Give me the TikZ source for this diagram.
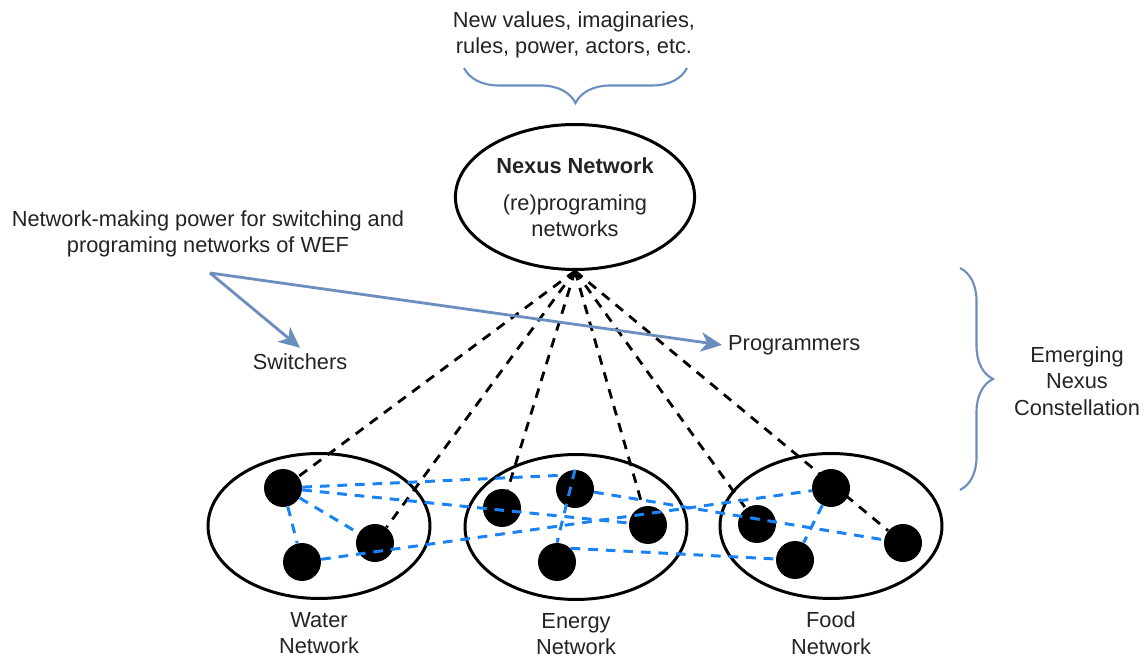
\documentclass[tikz,border=0pt]{standalone}
\usepackage{fontspec}
\setmainfont{Liberation Sans}
\usetikzlibrary{arrows.meta, positioning, shapes.geometric, decorations.pathreplacing, backgrounds}
\definecolor{armblue}{RGB}{108,142,191}
\definecolor{linkblue}{RGB}{25,130,245}
\definecolor{inkgray}{RGB}{35,35,35}

\begin{document}
\begin{tikzpicture}[
    x=0.02cm, y=-0.02cm,
    >={Stealth[length=12pt, width=11pt, inset=3.5pt]},
    txt/.style={font=\fontsize{12.4}{15}\selectfont, text=inkgray, align=center},
    net/.style={draw, ellipse, line width=1.7pt, minimum width=4.44cm, minimum height=2.9cm},
    dot/.style={circle, fill=black, minimum size=0.76cm, inner sep=0pt},
    tie/.style={draw, line width=1.6pt, dash pattern=on 5.5pt off 4.5pt},
    link/.style={draw=linkblue, line width=1.7pt, dash pattern=on 5.5pt off 4.5pt},
    pointer/.style={draw=armblue, line width=1.6pt, ->},
    curly/.style={draw=armblue, line width=1.2pt, decorate, decoration={brace, amplitude=0.7cm}},
]
    \useasboundingbox (0,0) rectangle (1146,661);

    % nexus on top
    \node[txt] (values) at (574,35) {New values, imaginaries,\\rules, power, actors, etc.};
    \draw[curly] (687,68) -- (464,68);
    \node[net, txt, minimum width=4.48cm] (nexus) at (575,197)
        {\textbf{Nexus Network}\\[6pt](re)programing\\networks};

    % power to switch and program
    \node[txt] (power) at (208,234) {Network-making power for switching and\\programing networks of WEF};
    \coordinate (fork) at (210,273);
    \node[txt] (switch) at (300,362) {Switchers};
    \node[txt, anchor=west] (prog) at (722,345) {Programmers};
    \draw[pointer] (fork) -- (switch.north);
    \draw[pointer] (fork) -- (prog.west);

    \draw[curly, decoration={brace, amplitude=0.66cm}] (960,268) -- (960,490);
    \node[txt] (emerge) at (1077,381) {Emerging\\Nexus\\Constellation};

    % WEF networks
    \node[net] (water) at (319,526) {};
    \node[net] (energy) at (576,527) {};
    \node[net] (food) at (831,526) {};
    \node[txt, below=0.12cm of water] (waterlbl) {Water\\Network};
    \node[txt, below=0.12cm of energy] (energylbl) {Energy\\Network};
    \node[txt, below=0.12cm of food] (foodlbl) {Food\\Network};

    \foreach \n/\x/\y in {w1/283/488, w2/302/562, w3/375/543,
                          e1/502/508, e2/575/489, e3/648/525, e4/557/562,
                          f1/757/524, f2/831/488, f3/903/543, f4/795/560}
        \node[dot] (\n) at (\x,\y) {};

    \begin{scope}[on background layer]
        \foreach \n in {w1, w3, e1, e3, f1, f3}
            \draw[tie] (nexus.south) -- (\n);
    \end{scope}

    % links across networks
    \draw[link] (w1) -- (w2);
    \draw[link] (w1) -- (w3);
    \draw[link] (w1) -- (e2.north west);
    \draw[link] (w1) -- (e3);
    \draw[link] (w2) -- (f2);
    \draw[link] (e2.north) -- (e4.north);
    \draw[link] (e2) -- (f3);
    \draw[link] (e4.north east) -- (f4);
    \draw[link] (f2) -- (f4);
\end{tikzpicture}
\end{document}
